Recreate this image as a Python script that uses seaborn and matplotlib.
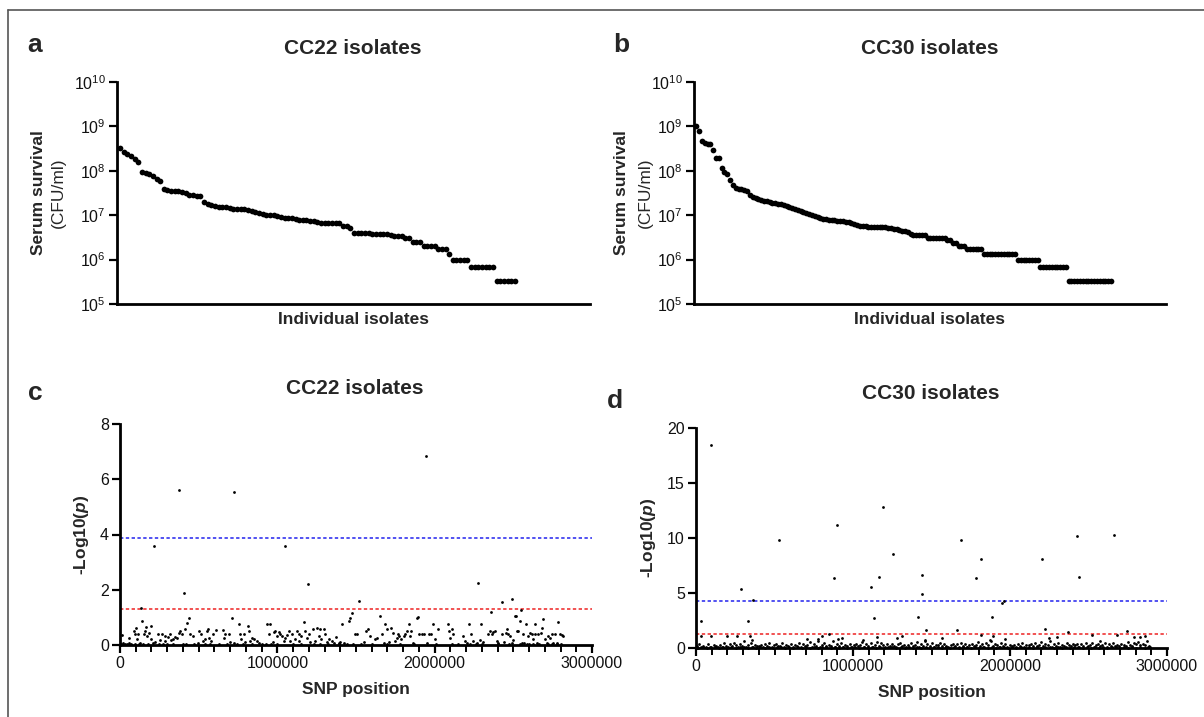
import numpy as np
import pandas as pd
import seaborn as sns
import matplotlib.pyplot as plt
from matplotlib.lines import Line2D
from matplotlib.ticker import FixedLocator, NullLocator, MultipleLocator, LogFormatterSciNotation

# ---- panel a / b: serum survival (CFU/ml), isolates sorted high -> low
cc22_survival = [
    3.2e8,
    2.6e8, 2.4e8, 2.1e8, 1.8e8, 1.6e8,
    9.5e7, 9.0e7, 8.5e7, 7.5e7, 6.5e7, 6.0e7,
    3.9e7, 3.7e7, 3.6e7, 3.5e7, 3.5e7, 3.4e7, 3.2e7, 2.9e7, 2.8e7, 2.7e7, 2.7e7,
    2.0e7, 1.8e7, 1.7e7, 1.6e7, 1.55e7, 1.5e7, 1.5e7, 1.45e7, 1.4e7, 1.4e7, 1.35e7,
    1.35e7, 1.3e7, 1.25e7, 1.2e7, 1.15e7, 1.05e7, 1.0e7, 1.0e7, 1.0e7, 9.5e6, 9.0e6,
    8.8e6, 8.7e6, 8.5e6, 8.2e6, 8.0e6, 7.9e6, 7.7e6, 7.5e6, 7.4e6, 7.2e6, 6.8e6,
    6.6e6, 6.6e6, 6.6e6, 6.6e6, 6.6e6,
    5.7e6, 5.6e6, 5.2e6,
    4.0e6, 4.0e6, 4.0e6, 4.0e6, 4.0e6,
    3.8e6, 3.8e6, 3.7e6, 3.7e6, 3.7e6, 3.6e6,
    3.4e6, 3.4e6, 3.4e6,
    3.0e6, 3.0e6,
    2.45e6, 2.45e6, 2.45e6,
    2.05e6, 2.05e6, 2.05e6, 2.05e6,
    1.7e6, 1.7e6, 1.7e6,
    1.35e6,
    1.0e6, 1.0e6, 1.0e6, 1.0e6, 1.0e6,
    6.7e5, 6.7e5, 6.7e5, 6.7e5, 6.7e5, 6.7e5, 6.7e5,
    3.3e5, 3.3e5, 3.3e5, 3.3e5, 3.3e5, 3.3e5,
]

cc30_survival = [
    1.0e9, 8.0e8,
    4.8e8, 4.3e8, 4.1e8, 4.0e8,
    3.0e8,
    1.9e8, 1.9e8,
    1.15e8, 9.5e7, 8.5e7, 6.2e7, 4.8e7,
    4.0e7, 3.9e7, 3.8e7, 3.7e7, 3.6e7,
    2.8e7, 2.6e7, 2.4e7, 2.3e7, 2.2e7, 2.1e7, 2.05e7, 2.0e7, 1.9e7, 1.85e7,
    1.8e7, 1.75e7, 1.7e7, 1.6e7, 1.5e7, 1.45e7, 1.4e7, 1.3e7, 1.25e7, 1.18e7,
    1.12e7, 1.05e7, 1.0e7, 9.5e6, 9.0e6, 8.5e6, 8.3e6, 8.1e6, 8.0e6, 7.8e6,
    7.7e6, 7.5e6, 7.4e6, 7.3e6, 7.2e6, 7.0e6, 6.8e6, 6.3e6, 6.0e6, 5.8e6,
    5.6e6, 5.6e6, 5.5e6, 5.5e6, 5.4e6, 5.4e6, 5.3e6, 5.3e6, 5.3e6, 5.2e6, 5.1e6,
    5.0e6, 4.8e6, 4.6e6, 4.4e6, 4.3e6, 4.2e6, 3.8e6, 3.5e6, 3.5e6, 3.5e6, 3.5e6, 3.5e6,
    3.0e6, 3.0e6, 3.0e6, 3.0e6, 3.0e6, 3.0e6, 3.0e6,
    2.7e6, 2.7e6,
    2.35e6, 2.35e6,
    2.05e6, 2.05e6, 2.05e6,
    1.7e6, 1.7e6, 1.7e6, 1.7e6, 1.7e6, 1.7e6,
    1.35e6, 1.35e6, 1.35e6, 1.35e6, 1.35e6, 1.35e6,
    1.35e6, 1.35e6, 1.35e6, 1.35e6, 1.35e6, 1.35e6,
    1.0e6, 1.0e6, 1.0e6, 1.0e6, 1.0e6, 1.0e6, 1.0e6, 1.0e6,
    6.7e5, 6.7e5, 6.7e5, 6.7e5, 6.7e5, 6.7e5, 6.7e5, 6.7e5, 6.7e5, 6.7e5,
    3.3e5, 3.3e5, 3.3e5, 3.3e5, 3.3e5, 3.3e5, 3.3e5, 3.3e5,
    3.3e5, 3.3e5, 3.3e5, 3.3e5, 3.3e5, 3.3e5, 3.3e5, 3.3e5,
]

# ---- panel c: CC22 GWAS, (SNP position in kb, -log10 p)
cc22_peaks = [
    (373, 5.6), (725, 5.55), (1942, 6.85), (215, 3.57), (1049, 3.6),
    (404, 1.87), (1195, 2.2), (2277, 2.25), (134, 1.35), (1516, 1.6),
    (2428, 1.57), (2489, 1.65), (2360, 1.2), (2549, 1.25), (2520, 1.05),
    (1893, 1.0), (2640, 0.75),
]
cc22_snps = [
    (14, 0.36), (18, 0.08), (56, 0.24), (60, 0.08), (88, 0.51), (94, 0.39), (103, 0.63),
    (109, 0.21), (115, 0.39), (130, 0.08), (141, 0.87), (151, 0.39), (158, 0.51),
    (166, 0.65), (172, 0.33), (183, 0.45), (194, 0.69), (200, 0.21),
    (208, 0.08), (225, 0.12), (242, 0.39), (257, 0.17), (268, 0.39), (285, 0.15),
    (289, 0.33), (306, 0.29), (316, 0.39), (327, 0.17), (335, 0.21), (352, 0.29),
    (363, 0.27), (373, 0.45), (384, 0.51), (395, 0.39), (401, 0.05), (416, 0.57),
    (426, 0.81), (437, 0.99), (447, 0.39),
    (462, 0.33), (496, 0.08), (505, 0.51), (517, 0.39), (526, 0.15), (543, 0.21),
    (553, 0.51), (560, 0.57), (568, 0.27), (581, 0.15), (589, 0.39), (610, 0.53),
    (653, 0.53), (659, 0.27), (670, 0.39), (691, 0.39), (701, 0.12), (712, 0.99),
    (723, 0.08), (759, 0.75), (765, 0.39), (771, 0.21), (786, 0.39), (797, 0.12),
    (814, 0.69), (818, 0.51), (828, 0.15), (839, 0.27), (850, 0.21), (871, 0.15), (881, 0.08),
    (934, 0.75), (949, 0.39), (955, 0.75), (970, 0.12), (977, 0.48), (987, 0.51),
    (998, 0.33), (1008, 0.48), (1019, 0.39), (1029, 0.33), (1040, 0.15), (1051, 0.27), (1061, 0.36),
    (1072, 0.51), (1082, 0.15), (1093, 0.39), (1114, 0.21), (1125, 0.51), (1135, 0.15),
    (1139, 0.39), (1152, 0.33), (1167, 0.85), (1177, 0.51), (1188, 0.27), (1199, 0.39),
    (1209, 0.12), (1224, 0.57), (1237, 0.15), (1252, 0.63), (1262, 0.33), (1273, 0.57), (1279, 0.21),
    (1294, 0.57), (1304, 0.39), (1315, 0.12), (1330, 0.21), (1347, 0.15), (1357, 0.08),
    (1372, 0.29), (1389, 0.08), (1400, 0.12), (1410, 0.75), (1421, 0.08), (1453, 0.87),
    (1463, 0.97), (1474, 1.17), (1478, 0.02), (1491, 0.39), (1506, 0.39),
    (1548, 0.12), (1563, 0.51), (1575, 0.57), (1590, 0.33), (1622, 0.21), (1632, 0.27),
    (1654, 1.05), (1664, 0.39), (1675, 0.08), (1685, 0.75), (1696, 0.57), (1707, 0.12),
    (1724, 0.63), (1738, 0.45), (1749, 0.15), (1759, 0.27), (1766, 0.39),
    (1774, 0.33), (1787, 0.21), (1802, 0.33), (1812, 0.39), (1823, 0.51), (1834, 0.75),
    (1844, 0.33), (1850, 0.51), (1865, 0.08), (1886, 0.97), (1901, 0.39), (1918, 0.39),
    (1935, 0.39), (1950, 0.08), (1961, 0.39), (1977, 0.39), (1992, 0.75), (2003, 0.21), (2024, 0.57),
    (2087, 0.75), (2094, 0.51), (2098, 0.27), (2109, 0.57), (2119, 0.39), (2183, 0.33),
    (2193, 0.15), (2204, 0.08), (2219, 0.75), (2231, 0.39), (2246, 0.15), (2267, 0.08),
    (2288, 0.17), (2295, 0.75), (2310, 0.12),
    (2341, 0.39), (2352, 0.51), (2362, 0.39), (2373, 0.48), (2384, 0.51), (2394, 0.15),
    (2405, 0.08), (2430, 0.39), (2443, 0.12), (2451, 0.45), (2458, 0.57), (2468, 0.39),
    (2479, 0.33), (2490, 0.08), (2500, 0.17), (2511, 1.05), (2521, 0.51), (2532, 0.51),
    (2542, 0.87), (2553, 0.08),
    (2564, 0.39), (2570, 0.08), (2578, 0.75), (2595, 0.33), (2606, 0.45), (2617, 0.39),
    (2627, 0.21), (2638, 0.39), (2648, 0.08), (2659, 0.39), (2676, 0.45), (2684, 0.63),
    (2690, 0.93), (2701, 0.21), (2711, 0.08), (2722, 0.33), (2733, 0.27), (2743, 0.39),
    (2754, 0.08), (2765, 0.39), (2775, 0.08), (2786, 0.85), (2796, 0.39), (2807, 0.36), (2817, 0.33),
]
cc22_baseline = [
    (5, 0.03), (30, 0.05), (45, 0.02), (72, 0.04), (98, 0.03), (120, 0.05), (148, 0.02),
    (178, 0.04), (250, 0.03), (275, 0.05), (300, 0.02), (340, 0.04), (420, 0.03),
    (470, 0.05), (540, 0.02), (575, 0.04), (630, 0.03), (680, 0.05), (745, 0.02),
    (780, 0.04), (840, 0.03), (900, 0.05), (925, 0.02), (960, 0.04), (1000, 0.03),
    (1100, 0.05), (1150, 0.02), (1230, 0.04), (1270, 0.03), (1320, 0.05), (1395, 0.02),
    (1440, 0.04), (1530, 0.03), (1600, 0.05), (1700, 0.02), (1780, 0.04), (1870, 0.03),
    (2010, 0.05), (2110, 0.02), (2150, 0.04), (2225, 0.03), (2260, 0.05), (2300, 0.02),
    (2400, 0.04), (2470, 0.03), (2540, 0.05), (2585, 0.02), (2600, 0.04), (2625, 0.03),
    (2660, 0.05), (2720, 0.02), (2745, 0.04), (2780, 0.03), (2800, 0.05),
]

# ---- panel d: CC30 GWAS, (SNP position in kb, -log10 p)
cc30_peaks = [
    (98, 18.46), (531, 9.78), (899, 11.22), (1188, 12.79), (879, 6.34), (1163, 6.43),
    (1114, 5.58), (1254, 8.51), (1440, 6.61), (1440, 4.92), (1413, 2.81), (1131, 2.72),
    (1685, 9.78), (1783, 6.40), (1815, 8.06), (1886, 2.78), (1947, 4.13), (1959, 4.31),
    (2204, 8.06), (2425, 10.14), (2439, 6.43), (2665, 10.26), (287, 5.34), (363, 4.37),
    (330, 2.50), (32, 2.50),
    (29, 1.06), (98, 1.06), (2221, 1.72), (2371, 1.42), (1660, 1.60), (1465, 1.60),
    (2743, 1.51), (2682, 1.21), (2523, 1.21), (850, 1.30), (803, 1.12), (1151, 0.97),
    (1817, 1.21), (343, 1.06), (196, 1.12), (2792, 0.97), (2860, 1.12),
    (259, 1.06), (355, 0.75), (705, 0.84), (779, 0.84), (906, 0.84), (928, 0.90),
    (1066, 0.75), (1278, 0.90), (1310, 1.06), (1458, 0.75), (1565, 0.90), (1873, 0.75),
    (1894, 1.06), (1968, 0.84), (2250, 0.90), (2297, 0.97), (2573, 0.60), (2828, 0.97),
]
cc30_snps = [
    (8, 0.15), (22, 0.35), (35, 0.08), (47, 0.22), (61, 0.12), (74, 0.40), (88, 0.05), (112, 0.28), (126, 0.18), (139, 0.10),
    (152, 0.30), (166, 0.12), (178, 0.45), (190, 0.20), (204, 0.08), (217, 0.33), (229, 0.15), (243, 0.50), (256, 0.25), (268, 0.10),
    (281, 0.38), (295, 0.18), (308, 0.60), (321, 0.12), (333, 0.27), (348, 0.42), (361, 0.07), (375, 0.30), (388, 0.20), (402, 0.14),
    (415, 0.25), (428, 0.10), (441, 0.35), (455, 0.18), (468, 0.45), (482, 0.08), (495, 0.28), (509, 0.40), (522, 0.15), (536, 0.22),
    (549, 0.50), (562, 0.12), (576, 0.30), (589, 0.20), (602, 0.38), (616, 0.10), (629, 0.26), (643, 0.16), (656, 0.42), (669, 0.08),
    (683, 0.32), (696, 0.18), (710, 0.24), (723, 0.55), (737, 0.12), (750, 0.36), (763, 0.20), (777, 0.60), (790, 0.10), (804, 0.28),
    (817, 0.44), (830, 0.15), (844, 0.30), (857, 0.22), (871, 0.65), (884, 0.12), (897, 0.38), (911, 0.20), (924, 0.48), (938, 0.10),
    (951, 0.27), (964, 0.14), (978, 0.34), (991, 0.09), (1005, 0.25), (1018, 0.40), (1031, 0.16), (1045, 0.30), (1058, 0.52), (1072, 0.12),
    (1085, 0.36), (1098, 0.20), (1112, 0.45), (1125, 0.10), (1139, 0.30), (1152, 0.58), (1165, 0.18), (1179, 0.42), (1192, 0.25), (1206, 0.13),
    (1219, 0.33), (1233, 0.16), (1246, 0.40), (1259, 0.22), (1273, 0.12), (1286, 0.35), (1300, 0.50), (1313, 0.20), (1326, 0.28), (1340, 0.08),
    (1353, 0.30), (1367, 0.45), (1380, 0.14), (1394, 0.26), (1407, 0.55), (1420, 0.10), (1434, 0.38), (1447, 0.20), (1461, 0.62), (1474, 0.32),
    (1488, 0.18), (1501, 0.42), (1514, 0.10), (1528, 0.30), (1541, 0.24), (1555, 0.50), (1568, 0.15), (1581, 0.36), (1595, 0.20), (1608, 0.08),
    (1622, 0.28), (1635, 0.40), (1649, 0.16), (1662, 0.32), (1675, 0.12), (1689, 0.46), (1702, 0.22), (1716, 0.35), (1729, 0.10), (1742, 0.27),
    (1756, 0.38), (1769, 0.14), (1783, 0.30), (1796, 0.52), (1810, 0.20), (1823, 0.34), (1836, 0.10), (1850, 0.44), (1863, 0.24), (1877, 0.60),
    (1890, 0.16), (1904, 0.40), (1917, 0.28), (1930, 0.12), (1944, 0.50), (1957, 0.22), (1971, 0.35), (1984, 0.08), (1997, 0.30), (2011, 0.18),
    (2024, 0.26), (2038, 0.12), (2051, 0.38), (2065, 0.20), (2078, 0.45), (2091, 0.10), (2105, 0.30), (2118, 0.24), (2132, 0.36), (2145, 0.14),
    (2159, 0.42), (2172, 0.20), (2185, 0.30), (2199, 0.55), (2212, 0.16), (2226, 0.38), (2239, 0.26), (2253, 0.62), (2266, 0.12), (2279, 0.34),
    (2293, 0.22), (2306, 0.45), (2320, 0.10), (2333, 0.30), (2347, 0.18), (2360, 0.50), (2373, 0.28), (2387, 0.14), (2400, 0.40), (2414, 0.24),
    (2427, 0.32), (2441, 0.12), (2454, 0.36), (2467, 0.20), (2481, 0.48), (2494, 0.15), (2508, 0.30), (2521, 0.42), (2535, 0.10), (2548, 0.26),
    (2561, 0.38), (2575, 0.18), (2588, 0.28), (2602, 0.50), (2615, 0.12), (2629, 0.34), (2642, 0.22), (2655, 0.44), (2669, 0.16), (2682, 0.30),
    (2696, 0.20), (2709, 0.40), (2723, 0.26), (2736, 0.14), (2749, 0.52), (2763, 0.30), (2776, 0.18), (2790, 0.45), (2803, 0.35), (2817, 0.58),
    (2830, 0.24), (2844, 0.40), (2857, 0.30), (2871, 0.65), (2884, 0.20), (2893, 0.10),
]
cc30_baseline = [
    (15, 0.04), (42, 0.07), (68, 0.03), (95, 0.09), (120, 0.05), (147, 0.02), (173, 0.08), (200, 0.04),
    (226, 0.06), (253, 0.03), (280, 0.09), (306, 0.05), (333, 0.02), (358, 0.07), (384, 0.04), (410, 0.08),
    (437, 0.03), (462, 0.06), (489, 0.02), (515, 0.09), (541, 0.05), (568, 0.03), (594, 0.07), (620, 0.04),
    (647, 0.08), (672, 0.02), (699, 0.06), (725, 0.04), (751, 0.09), (778, 0.03), (804, 0.07), (830, 0.05),
    (857, 0.02), (883, 0.08), (909, 0.04), (935, 0.06), (962, 0.03), (988, 0.09), (1014, 0.05), (1041, 0.02),
    (1067, 0.07), (1093, 0.04), (1119, 0.08), (1146, 0.03), (1172, 0.06), (1198, 0.02), (1225, 0.09), (1251, 0.05),
    (1277, 0.03), (1304, 0.07), (1330, 0.04), (1356, 0.08), (1383, 0.02), (1409, 0.06), (1435, 0.04), (1462, 0.09),
    (1488, 0.03), (1514, 0.07), (1541, 0.05), (1567, 0.02), (1593, 0.08), (1620, 0.04), (1646, 0.06), (1672, 0.03),
    (1699, 0.09), (1725, 0.05), (1751, 0.02), (1778, 0.07), (1804, 0.04), (1830, 0.08), (1857, 0.03), (1883, 0.06),
    (1909, 0.02), (1936, 0.09), (1962, 0.05), (1988, 0.03), (2015, 0.07), (2041, 0.04), (2067, 0.08), (2094, 0.02),
    (2120, 0.06), (2146, 0.04), (2173, 0.09), (2199, 0.03), (2225, 0.07), (2252, 0.05), (2278, 0.02), (2304, 0.08),
    (2331, 0.04), (2357, 0.06), (2383, 0.03), (2410, 0.09), (2436, 0.05), (2462, 0.02), (2489, 0.07), (2515, 0.04),
    (2541, 0.08), (2568, 0.03), (2594, 0.06), (2620, 0.02), (2647, 0.09), (2673, 0.05), (2699, 0.03), (2726, 0.07),
    (2752, 0.04), (2778, 0.08), (2805, 0.02), (2831, 0.06), (2857, 0.04), (2880, 0.09),
]

cc22_bonferroni = 3.88
cc30_bonferroni = 4.31
p05_line = 1.30

# ---------------------------------------------------------------- style
sns.set_style("ticks")
plt.rcParams["font.family"] = ["Liberation Sans", "DejaVu Sans"]
plt.rcParams["mathtext.fontset"] = "custom"
plt.rcParams["mathtext.rm"] = "Liberation Sans"
plt.rcParams["mathtext.it"] = "Liberation Sans:italic"
plt.rcParams["mathtext.bf"] = "Liberation Sans:bold"
plt.rcParams["mathtext.bfit"] = "Liberation Sans:italic:bold"

W, H = 1204, 717
fig = plt.figure(figsize=(W / 100, H / 100), dpi=100)


def px_axes(left, top, right, bottom):
    return fig.add_axes([left / W, 1 - bottom / H, (right - left) / W, (bottom - top) / H])


def style_axes(ax):
    sns.despine(ax=ax)
    for side in ["left", "bottom"]:
        ax.spines[side].set_linewidth(2)
        ax.spines[side].set_color("black")
    ax.tick_params(axis="both", which="major", length=6, width=1.6, labelsize=11.5,
                   color="black", labelcolor="#111111", pad=2)


def survival_panel(ax, values, xmax, lab_x):
    df = pd.DataFrame({"isolate": np.arange(1, len(values) + 1), "cfu": values})
    sns.scatterplot(data=df, x="isolate", y="cfu", ax=ax, color="black", s=17,
                    linewidth=0, clip_on=False, zorder=3)
    ax.set_yscale("log")
    ax.set_ylim(1e5, 1e10)
    ax.set_xlim(0.2, xmax)
    ax.yaxis.set_major_locator(FixedLocator([1e5, 1e6, 1e7, 1e8, 1e9, 1e10]))
    ax.yaxis.set_minor_locator(NullLocator())
    ax.yaxis.set_major_formatter(LogFormatterSciNotation())
    ax.set_xticks([])
    ax.set_ylabel("")
    ax.set_xlabel("Individual isolates", fontsize=12.5, fontweight="bold", labelpad=6)
    style_axes(ax)
    ax.text(lab_x[0], 0.5, "Serum survival", rotation=90, transform=ax.transAxes,
            ha="center", va="center", fontsize=12.5, fontweight="bold")
    ax.text(lab_x[1], 0.5, "(CFU/ml)", rotation=90, transform=ax.transAxes,
            ha="center", va="center", fontsize=12.5)


def gwas_panel(ax, peaks, snps, base, ymax, ystep, bonf, lab_x):
    rows = peaks + snps + base
    df = pd.DataFrame({"pos": [r[0] * 1000 for r in rows], "logp": [r[1] for r in rows]})
    ax.axhline(bonf, color="#2222ee", lw=1.1, ls=(0, (2.2, 1.6)), zorder=2)
    ax.axhline(p05_line, color="#ee2222", lw=1.1, ls=(0, (2.2, 1.6)), zorder=2)
    sns.scatterplot(data=df, x="pos", y="logp", ax=ax, color="black", s=4,
                    linewidth=0, clip_on=False, zorder=3)
    ax.set_xlim(0, 3000000)
    ax.set_ylim(0, ymax)
    ax.set_xticks([0, 1000000, 2000000, 3000000])
    ax.set_xticklabels(["0", "1000000", "2000000", "3000000"])
    ax.xaxis.set_minor_locator(MultipleLocator(100000))
    ax.yaxis.set_major_locator(MultipleLocator(ystep))
    ax.set_ylabel("")
    ax.set_xlabel("SNP position", fontsize=12.5, fontweight="bold", labelpad=8)
    style_axes(ax)
    ax.tick_params(axis="x", which="minor", length=5, width=1.4, color="black")
    ax.text(lab_x, 0.5, r"-Log10($\mathbfit{p}$)", rotation=90, transform=ax.transAxes,
            ha="center", va="center", fontsize=12.5, fontweight="bold")


ax_a = px_axes(117, 82, 590, 304)
survival_panel(ax_a, cc22_survival, 129.5, (-0.165, -0.124))

ax_b = px_axes(694, 82, 1166, 304)
survival_panel(ax_b, cc30_survival, 167.5, (-0.153, -0.104))

ax_c = px_axes(120, 424, 592, 645)
gwas_panel(ax_c, cc22_peaks, cc22_snps, cc22_baseline, 8, 2, cc22_bonferroni, -0.082)

ax_d = px_axes(696, 428, 1167, 648)
gwas_panel(ax_d, cc30_peaks, cc30_snps, cc30_baseline, 20, 5, cc30_bonferroni, -0.1)

# titles and panel letters
for x, y, t in [(353, 48, "CC22 isolates"), (930, 48, "CC30 isolates"),
                (355, 389, "CC22 isolates"), (931, 393, "CC30 isolates")]:
    fig.text(x / W, 1 - y / H, t, ha="center", va="center", fontsize=15, fontweight="bold")
for x, y, t in [(35, 45, "a"), (621, 45, "b"), (35, 393, "c"), (615, 401, "d")]:
    fig.text(x / W, 1 - y / H, t, ha="center", va="center", fontsize=19, fontweight="bold")

# thin frame around the figure (top and left edges visible)
fig.add_artist(Line2D([8 / W, 1.0], [1 - 10 / H, 1 - 10 / H], transform=fig.transFigure,
                      color="#555555", lw=1.2))
fig.add_artist(Line2D([8 / W, 8 / W], [0.0, 1 - 10 / H], transform=fig.transFigure,
                      color="#555555", lw=1.2))

fig.savefig("out.png", dpi=100)
